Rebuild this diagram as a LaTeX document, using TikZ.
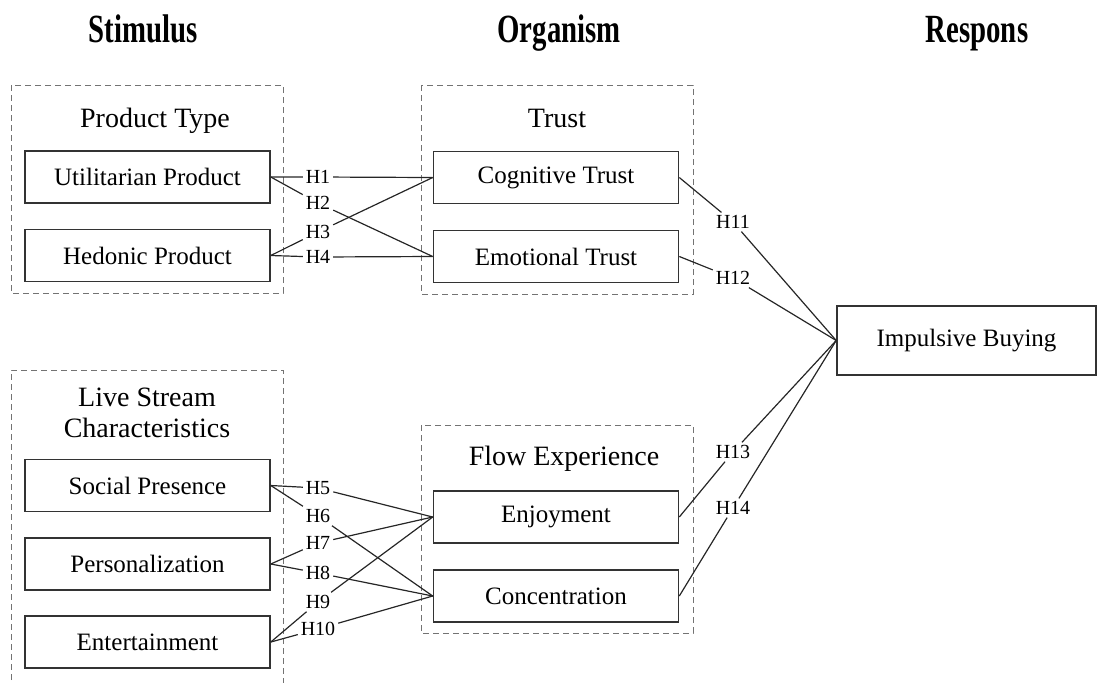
\documentclass[tikz,border=0pt]{standalone}
\usepackage{fontspec}
\setmainfont{Liberation Serif}
\usepackage{tikz}
\tikzset{
    constr/.style = {draw=black!80, line width=0.8pt, minimum width=122.5pt, minimum height=26pt, inner sep=0pt, font=\fontsize{12.5}{15}\selectfont},
    group/.style = {draw=black!55, densely dashed, line width=0.45pt},
    hyp/.style = {inner sep=1.3pt, font=\fontsize{10}{12}\selectfont},
    grouptitle/.style = {font=\fontsize{14}{15.5}\selectfont, align=center},
    head/.style = {font=\fontsize{20}{24}\selectfont\bfseries},
    link/.style = {draw=black!85, line width=0.6pt}
}

\begin{document}
\begin{tikzpicture}[x=0.5pt, y=-0.5pt]
        \useasboundingbox (0,0) rectangle (1097,682);
        % column headings
        \node[head, anchor=base] (stimulus) at (143,42) {\scalebox{0.72}[1]{Stimulus}};
        \node[head, anchor=base] (organism) at (559,42) {\scalebox{0.72}[1]{Organism}};
        \node[head, anchor=base] (respons) at (977,42) {\scalebox{0.72}[1]{Respons}};
        % dashed frames round the groups
        \draw[group] (11,85) rectangle (283,293);
        \draw[group] (421,85) rectangle (693,294);
        \draw[group] (11,690) -- (11,370) -- (283,370) -- (283,690);
        \draw[group] (421,425) rectangle (693,633);
        % group titles
        \node[grouptitle, anchor=base] (ptype) at (155,127) {Product Type};
        \node[grouptitle, anchor=base] (trust) at (557,127) {Trust};
        \node[grouptitle] (lsc) at (147,413) {Live Stream\\Characteristics};
        \node[grouptitle, anchor=base] (flow) at (564,465) {Flow Experience};
        % constructs
        \node[constr] (util) at (147.5,177) {Utilitarian Product};
        \node[constr] (hedo) at (147.5,255.5) {Hedonic Product};
        \node[constr] (cogn) at (556,177.5) {Cognitive Trust};
        \node[constr] (emot) at (556,256.5) {Emotional Trust};
        \node[constr] (soci) at (147.5,485.5) {Social Presence};
        \node[constr] (pers) at (147.5,564) {Personalization};
        \node[constr] (ente) at (147.5,642) {Entertainment};
        \node[constr] (enjo) at (556,517) {Enjoyment};
        \node[constr] (conc) at (556,596) {Concentration};
        \node[constr, minimum width=129.5pt, minimum height=34.5pt] (impu) at (966.5,340.5) {Impulsive Buying};
        % hypothesis labels
        \foreach \h/\y in {1/177, 2/203, 3/232, 4/257, 5/488, 6/516, 7/543, 8/573, 9/602, 10/629}
            \node[hyp] (h\h) at (318,\y) {H\h};
        \foreach \h/\y in {11/222, 12/278, 13/452, 14/508}
            \node[hyp] (h\h) at (733,\y) {H\h};
        % paths broken by their labels
        \foreach \a/\h/\b in {util/h1/cogn, util/h2/emot, hedo/h3/cogn, hedo/h4/emot,
                soci/h5/enjo, soci/h6/conc, pers/h7/enjo, pers/h8/conc, ente/h9/enjo, ente/h10/conc,
                cogn/h11/impu, emot/h12/impu, enjo/h13/impu, conc/h14/impu}
            \draw[link] (\a.east) -- (\h) (\h) -- (\b.west);
    \end{tikzpicture}
\end{document}
